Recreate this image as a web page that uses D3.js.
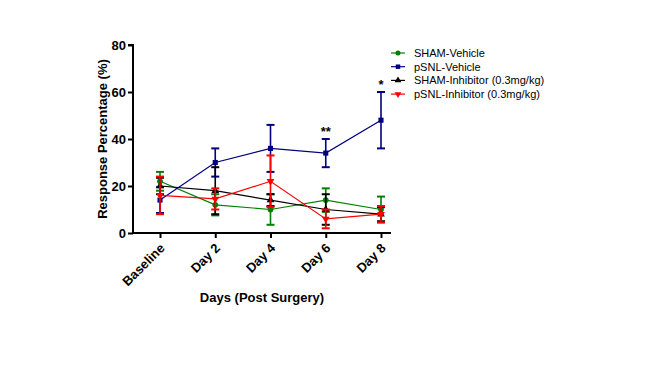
<!DOCTYPE html>
<html><head><meta charset="utf-8">
<script src="https://cdn.jsdelivr.net/npm/d3@7"></script>
<style>body{margin:0;background:#fff}svg{display:block;font-family:"Liberation Sans",Arial,sans-serif}</style>
</head><body><svg id="c" width="648" height="382"></svg>
<script>
const categories = ["Baseline", "Day 2", "Day 4", "Day 6", "Day 8"];
const seriesNames = ["SHAM-Vehicle", "pSNL-Vehicle", "SHAM-Inhibitor (0.3mg/kg)", "pSNL-Inhibitor (0.3mg/kg)"];
const shamVehicle = [22, 12, 10, 14, 10];
const shamVehicleErr = [4, 4.5, 6.5, 5, 5.5];
const psnlVehicle = [14, 30, 36, 34, 48];
const psnlVehicleErr = [5.5, 6, 10, 6, 12];
const shamInhibitor = [20, 18, 14, 10, 8];
const shamInhibitorErr = [3.5, 10, 2.5, 6.5, 3];
const psnlInhibitor = [16, 14.5, 22, 6, 8];
const psnlInhibitorErr = [8, 4.5, 11, 4, 3.5];
const yTicks = [0, 20, 40, 60, 80];
const annotations = [{cat: "Day 6", text: "**"}, {cat: "Day 8", text: "*"}];

const colors = ["#008000", "#000080", "#000000", "#ff0000"];
const shapes = [d3.symbolCircle, d3.symbolSquare, d3.symbolTriangle, "down"];
const series = [
  {name: seriesNames[0], v: shamVehicle, e: shamVehicleErr},
  {name: seriesNames[1], v: psnlVehicle, e: psnlVehicleErr},
  {name: seriesNames[2], v: shamInhibitor, e: shamInhibitorErr},
  {name: seriesNames[3], v: psnlInhibitor, e: psnlInhibitorErr}
];

const svg = d3.select("#c");
const x = d3.scalePoint().domain(categories).range([160, 381]);
const y = d3.scaleLinear().domain([0, 80]).range([233, 45]);

function marker(g, i, size) {
  if (shapes[i] === "down") {
    g.append("path").attr("d", d3.symbol().type(d3.symbolTriangle).size(size)()).attr("transform", "rotate(180)");
  } else {
    g.append("path").attr("d", d3.symbol().type(shapes[i]).size(size)());
  }
}

// series
series.forEach((s, i) => {
  const g = svg.append("g").attr("fill", colors[i]).attr("stroke", colors[i]);
  const line = d3.line().x((d, j) => x(categories[j])).y(d => y(d));
  g.append("path").attr("d", line(s.v)).attr("fill", "none").attr("stroke-width", 1.2);
  s.v.forEach((v, j) => {
    const cx = x(categories[j]);
    const eg = g.append("g").attr("stroke-width", 1.6);
    eg.append("line").attr("x1", cx).attr("x2", cx).attr("y1", y(v - s.e[j])).attr("y2", y(v + s.e[j]));
    [v - s.e[j], v + s.e[j]].forEach(b => {
      eg.append("line").attr("x1", cx - 4).attr("x2", cx + 4).attr("y1", y(b)).attr("y2", y(b)).attr("stroke-width", 2);
    });
    const mg = g.append("g").attr("transform", `translate(${cx},${y(v)})`).attr("stroke", "none");
    marker(mg, i, 26);
  });
});

// annotations
annotations.forEach(a => {
  const j = categories.indexOf(a.cat);
  svg.append("text").attr("x", x(a.cat)).attr("y", y(psnlVehicle[j] + psnlVehicleErr[j]) - 3)
    .attr("text-anchor", "middle").attr("font-size", 13).attr("font-weight", "bold").text(a.text);
});

// axes
const ya = svg.append("g").attr("transform", "translate(133,0)")
  .call(d3.axisLeft(y).tickValues(yTicks).tickSize(5).tickPadding(2));
ya.select(".domain").attr("stroke-width", 2).attr("d", `M-5,${y(80)}H0V${y(0)}`);
ya.selectAll(".tick line").attr("stroke-width", 2);
ya.selectAll("text").attr("font-size", 13).attr("font-weight", "bold").attr("fill", "#000").attr("font-family", "Liberation Sans, Arial, sans-serif");

const xa = svg.append("g").attr("transform", "translate(0,233)")
  .call(d3.axisBottom(x).tickSize(5).tickPadding(3));
xa.select(".domain").attr("stroke-width", 2).attr("d", "M133,0H391");
xa.selectAll(".tick line").attr("stroke-width", 2);
xa.selectAll("text").attr("font-size", 13).attr("font-weight", "bold").attr("fill", "#000")
  .attr("font-family", "Liberation Sans, Arial, sans-serif")
  .attr("text-anchor", "end").attr("y", 0).attr("dy", 0)
  .attr("transform", "translate(5,16) rotate(-45)");

svg.append("text").attr("transform", `translate(107,${(y(0)+y(80))/2}) rotate(-90)`)
  .attr("text-anchor", "middle").attr("font-size", 13).attr("font-weight", "bold").text("Response Percentage (%)");
svg.append("text").attr("x", 262).attr("y", 302).attr("text-anchor", "middle")
  .attr("font-size", 13).attr("font-weight", "bold").text("Days (Post Surgery)");

// legend
series.forEach((s, i) => {
  const ly = 53 + i * 13.7;
  const g = svg.append("g").attr("transform", `translate(398,${ly})`);
  g.append("line").attr("x1", -7).attr("x2", 7).attr("stroke", colors[i]).attr("stroke-width", 1.2);
  const mg = g.append("g").attr("fill", colors[i]);
  marker(mg, i, 20);
  svg.append("text").attr("x", 414).attr("y", ly).attr("dy", "0.35em").attr("font-size", 11).text(s.name);
});
</script></body></html>
